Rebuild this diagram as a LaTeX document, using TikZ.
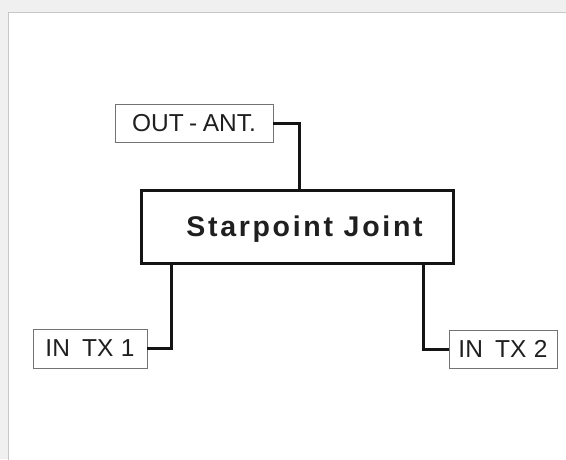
\documentclass[tikz,border=0pt]{standalone}
\usepackage{fontspec}
\setmainfont{Liberation Sans}
\newfontfamily\spacedbold[LetterSpace=9.5]{Liberation Sans Bold}
\begin{document}
\begin{tikzpicture}[x=1pt,y=-1pt,
  port/.style={draw=black!55,line width=0.9pt,fill=white,inner sep=0pt,
    font=\fontsize{24.5}{26}\selectfont,text=black!88},
  joint/.style={draw=black!92,line width=3.2pt,fill=white,inner sep=0pt,
    minimum width=312pt,minimum height=73pt,text height=18.5pt,text depth=0pt,
    font=\spacedbold\fontsize{28.5}{30}\selectfont,text=black!88},
  wire/.style={draw=black!92,line width=3pt}]
\fill[black!6] (0,0) rectangle (566,459);
\useasboundingbox (0,0) rectangle (566,459);
\draw[black!22,fill=white,line width=1pt] (8,12.5) rectangle (580,470);
\node[port,minimum width=158pt,minimum height=38pt] (out) at (194,123) {OUT\hspace{0.22em}-\hspace{0.22em}ANT.};
\node[joint] (star) at (297.5,227) {\hspace*{14pt}Starpoint Joint};
\node[port,minimum width=114pt,minimum height=39pt] (tx1) at (90,348.5) {IN\hspace{0.5em}TX\hspace{0.3em}1};
\node[port,minimum width=108pt,minimum height=38pt] (tx2) at (503,349) {IN\hspace{0.5em}TX\hspace{0.3em}2};
\draw[wire] (out.east) -| ([xshift=1.5pt]star.north);
\draw[wire] (tx1.east) -| ([xshift=32pt]star.south west);
\draw[wire] (tx2.west) -| ([xshift=-32pt]star.south east);
\end{tikzpicture}
\end{document}
